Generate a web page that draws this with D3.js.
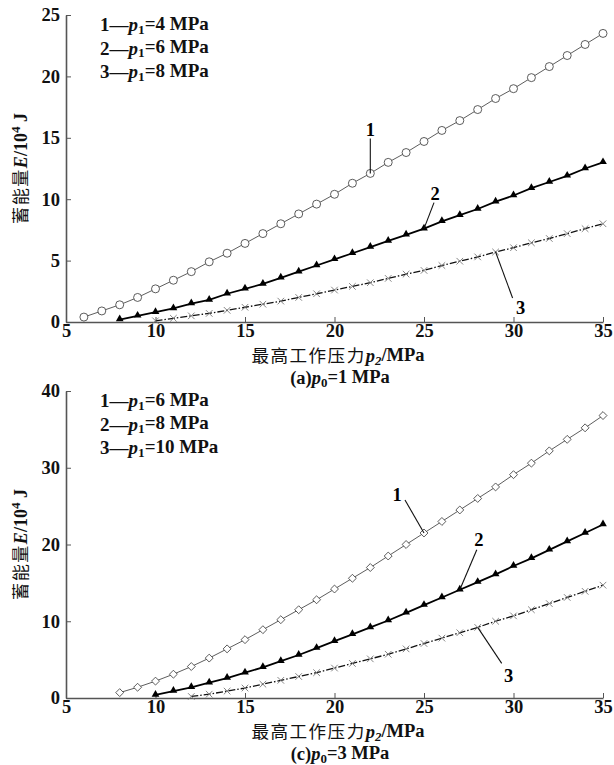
<!DOCTYPE html>
<html>
<head>
<meta charset="utf-8">
<script src="https://cdn.jsdelivr.net/npm/d3@7"></script>
<style>
  body { margin: 0; background: #fff; }
  svg { display: block; }
</style>
</head>
<body>
<script>
// p2 values (MPa) for each series
const p2From6 = [6, 7, 8, 9, 10, 11, 12, 13, 14, 15, 16, 17, 18, 19, 20, 21, 22, 23, 24, 25, 26, 27, 28, 29, 30, 31, 32, 33, 34, 35];
const p2From8 = [8, 9, 10, 11, 12, 13, 14, 15, 16, 17, 18, 19, 20, 21, 22, 23, 24, 25, 26, 27, 28, 29, 30, 31, 32, 33, 34, 35];
const p2From10 = [10, 11, 12, 13, 14, 15, 16, 17, 18, 19, 20, 21, 22, 23, 24, 25, 26, 27, 28, 29, 30, 31, 32, 33, 34, 35];
const p2From12 = [12, 13, 14, 15, 16, 17, 18, 19, 20, 21, 22, 23, 24, 25, 26, 27, 28, 29, 30, 31, 32, 33, 34, 35];

// (a) p0 = 1 MPa, energy in 10^4 J
const energyA1 = [0.4, 0.9, 1.4, 2.0, 2.7, 3.4, 4.1, 4.9, 5.6, 6.4, 7.2, 8.0, 8.8, 9.6, 10.4, 11.3, 12.1, 13.0, 13.8, 14.7, 15.6, 16.4, 17.3, 18.2, 19.0, 19.9, 20.8, 21.7, 22.6, 23.5];
const energyA2 = [0.2, 0.5, 0.8, 1.1, 1.5, 1.8, 2.3, 2.7, 3.1, 3.6, 4.1, 4.6, 5.1, 5.6, 6.1, 6.6, 7.1, 7.6, 8.2, 8.7, 9.2, 9.8, 10.3, 10.9, 11.4, 11.9, 12.5, 13.0];
const energyA3 = [0.1, 0.3, 0.5, 0.7, 0.95, 1.2, 1.45, 1.7, 2.0, 2.3, 2.6, 2.9, 3.2, 3.55, 3.9, 4.2, 4.6, 4.95, 5.3, 5.7, 6.05, 6.45, 6.8, 7.2, 7.6, 8.0];

// (c) p0 = 3 MPa
const energyC1 = [0.7, 1.4, 2.2, 3.1, 4.1, 5.2, 6.4, 7.6, 8.9, 10.2, 11.5, 12.8, 14.2, 15.6, 17.0, 18.5, 20.0, 21.5, 23.0, 24.5, 26.0, 27.5, 29.1, 30.6, 32.2, 33.7, 35.2, 36.8];
const energyC2 = [0.4, 0.9, 1.4, 2.0, 2.6, 3.3, 4.0, 4.8, 5.6, 6.5, 7.4, 8.3, 9.2, 10.1, 11.1, 12.1, 13.1, 14.1, 15.1, 16.1, 17.2, 18.2, 19.3, 20.4, 21.5, 22.6];
const energyC3 = [0.2, 0.5, 0.9, 1.3, 1.8, 2.3, 2.8, 3.3, 3.9, 4.5, 5.1, 5.7, 6.4, 7.1, 7.8, 8.5, 9.2, 10.0, 10.7, 11.5, 12.3, 13.1, 13.9, 14.7];

const xTicks = [5, 10, 15, 20, 25, 30, 35];
const yTicksA = [0, 5, 10, 15, 20, 25];
const yTicksC = [0, 10, 20, 30, 40];

const legendA = [['1', '4'], ['2', '6'], ['3', '8']];
const legendC = [['1', '6'], ['2', '8'], ['3', '10']];

const serif = '"Liberation Serif", "Times New Roman", serif';
const cjk = '"Noto Sans CJK SC", sans-serif';

const svg = d3.select('body').append('svg').attr('width', 614).attr('height', 765);

const zip = (xs, ys) => xs.map((x, i) => ({ x, y: ys[i] }));

const panels = [
  {
    top: 15,
    yMax: 25,
    yTicks: yTicksA,
    legend: legendA,
    caption: ['(a)', '1'],
    series: [
      { data: zip(p2From6, energyA1), marker: 'circle' },
      { data: zip(p2From8, energyA2), marker: 'triangle' },
      { data: zip(p2From10, energyA3), marker: 'cross' },
    ],
    notes: [
      { s: 0, at: 22, end: [0, -35], label: [0, -43] },
      { s: 1, at: 25, end: [10, -26], label: [11, -35] },
      { s: 2, at: 29, end: [17, 46], label: [25, 56] },
    ],
  },
  {
    top: 391,
    yMax: 40,
    yTicks: yTicksC,
    legend: legendC,
    caption: ['(c)', '3'],
    series: [
      { data: zip(p2From8, energyC1), marker: 'diamond' },
      { data: zip(p2From10, energyC2), marker: 'triangle' },
      { data: zip(p2From12, energyC3), marker: 'cross' },
    ],
    notes: [
      { s: 0, at: 25, end: [-19, -33], label: [-27, -38] },
      { s: 1, at: 27, end: [17, -40], label: [19, -50] },
      { s: 2, at: 28, end: [24, 36], label: [31, 49] },
    ],
  },
];

const left = 66;
const right = 603;
const plotH = 307;

const lineStyles = [
  { stroke: '#333', width: 0.8, dash: null },
  { stroke: '#000', width: 1.8, dash: null },
  { stroke: '#111', width: 1.3, dash: '7,2,1.5,2' },
];

function drawMarker(g, d, kind, x, y) {
  const cx = x(d.x);
  const cy = y(d.y);
  if (kind === 'circle') {
    g.append('circle').attr('cx', cx).attr('cy', cy).attr('r', 4)
      .attr('fill', '#fff').attr('stroke', '#333').attr('stroke-width', 0.8);
  } else if (kind === 'diamond') {
    g.append('path').attr('d', d3.symbol(d3.symbolDiamond2, 40)())
      .attr('transform', `translate(${cx},${cy})`)
      .attr('fill', '#fff').attr('stroke', '#333').attr('stroke-width', 0.8);
  } else if (kind === 'triangle') {
    g.append('path').attr('d', d3.symbol(d3.symbolTriangle, 26)())
      .attr('transform', `translate(${cx},${cy - 0.5})`)
      .attr('fill', '#000');
  } else {
    g.append('path').attr('d', d3.symbol(d3.symbolX, 30)())
      .attr('transform', `translate(${cx},${cy})`)
      .attr('fill', 'none').attr('stroke', '#777').attr('stroke-width', 0.9);
  }
}

function richText(text, parts) {
  parts.forEach(([str, style]) => {
    const t = text.append('tspan').text(str);
    if (style === 'i') t.attr('font-style', 'italic');
    if (style === 'sub') t.attr('font-size', '0.7em').attr('dy', '0.22em');
    if (style === 'isub') t.attr('font-size', '0.7em').attr('dy', '0.22em').attr('font-style', 'italic');
    if (style === 'back') t.attr('dy', '-0.22em');
    if (style === 'sup') t.attr('font-size', '0.72em').attr('dy', '-0.55em');
    if (style === 'down') t.attr('dy', '0.4em');
    if (style === 'cjk') t.attr('font-family', cjk).attr('font-weight', 'normal').attr('font-size', '0.95em').attr('letter-spacing', 1.5);
  });
}

panels.forEach((p) => {
  const x = d3.scaleLinear().domain([5, 35]).range([left, right]);
  const y = d3.scaleLinear().domain([0, p.yMax]).range([p.top + plotH, p.top]);
  const g = svg.append('g');

  // axes
  const xAxis = g.append('g')
    .attr('transform', `translate(0,${p.top + plotH})`)
    .call(d3.axisBottom(x).tickValues(xTicks).tickSizeInner(-5).tickSizeOuter(0).tickPadding(2));
  const yAxis = g.append('g')
    .attr('transform', `translate(${left},0)`)
    .call(d3.axisLeft(y).tickValues(p.yTicks).tickSizeInner(-5).tickSizeOuter(0).tickPadding(6));
  [xAxis, yAxis].forEach((a) => {
    a.select('.domain').attr('stroke', '#555').attr('stroke-width', 1.6);
    a.selectAll('.tick line').attr('stroke', '#555').attr('stroke-width', 1);
    a.selectAll('.tick text')
      .attr('font-family', serif).attr('font-weight', 'bold').attr('font-size', 18.5).attr('fill', '#111');
  });

  // series
  p.series.forEach((s, i) => {
    const st = lineStyles[i];
    g.append('path').datum(s.data)
      .attr('d', d3.line().x((d) => x(d.x)).y((d) => y(d.y)))
      .attr('fill', 'none').attr('stroke', st.stroke).attr('stroke-width', st.width)
      .attr('stroke-dasharray', st.dash);
    const mg = g.append('g');
    s.data.forEach((d) => drawMarker(mg, d, s.marker, x, y));
  });

  // leader lines and curve numbers
  p.notes.forEach((n) => {
    const pt = p.series[n.s].data.find((d) => d.x === n.at);
    const px = x(pt.x);
    const py = y(pt.y);
    g.append('line')
      .attr('x1', px).attr('y1', py).attr('x2', px + n.end[0]).attr('y2', py + n.end[1])
      .attr('stroke', '#111').attr('stroke-width', 1.1);
    g.append('text')
      .attr('x', px + n.label[0]).attr('y', py + n.label[1])
      .attr('text-anchor', 'middle').attr('dominant-baseline', 'central')
      .attr('font-family', serif).attr('font-weight', 'bold').attr('font-size', 18.5)
      .text(String(n.s + 1));
  });

  // legend
  p.legend.forEach(([num, val], i) => {
    const t = g.append('text')
      .attr('x', 100).attr('y', p.top + 16 + i * 23.5)
      .attr('font-family', serif).attr('font-weight', 'bold').attr('font-size', 19).attr('fill', '#111');
    richText(t, [[`${num}\u2014`, ''], ['p', 'i'], ['1', 'sub'], [`=${val} MPa`, 'back']]);
  });

  // y axis title
  const yt = g.append('text')
    .attr('transform', `translate(27,${p.top + plotH / 2}) rotate(-90)`)
    .attr('text-anchor', 'middle')
    .attr('font-family', serif).attr('font-weight', 'bold').attr('font-size', 18).attr('fill', '#111');
  richText(yt, [['蓄能量', 'cjk'], ['E', 'i'], ['/10', ''], ['4', 'sup'], [' J', 'down']]);

  // x axis title
  const xt = g.append('text')
    .attr('x', 338).attr('y', p.top + plotH + 40)
    .attr('text-anchor', 'middle')
    .attr('font-family', serif).attr('font-weight', 'bold').attr('font-size', 18.5).attr('fill', '#111');
  richText(xt, [['最高工作压力', 'cjk'], ['p', 'i'], ['2', 'isub'], ['/MPa', 'back']]);

  // caption
  const cap = g.append('text')
    .attr('x', 340).attr('y', p.top + plotH + 62)
    .attr('text-anchor', 'middle')
    .attr('font-family', serif).attr('font-weight', 'bold').attr('font-size', 18.5).attr('fill', '#111');
  richText(cap, [[p.caption[0], ''], ['p', 'i'], ['0', 'sub'], [`=${p.caption[1]} MPa`, 'back']]);
});
</script>
</body>
</html>
